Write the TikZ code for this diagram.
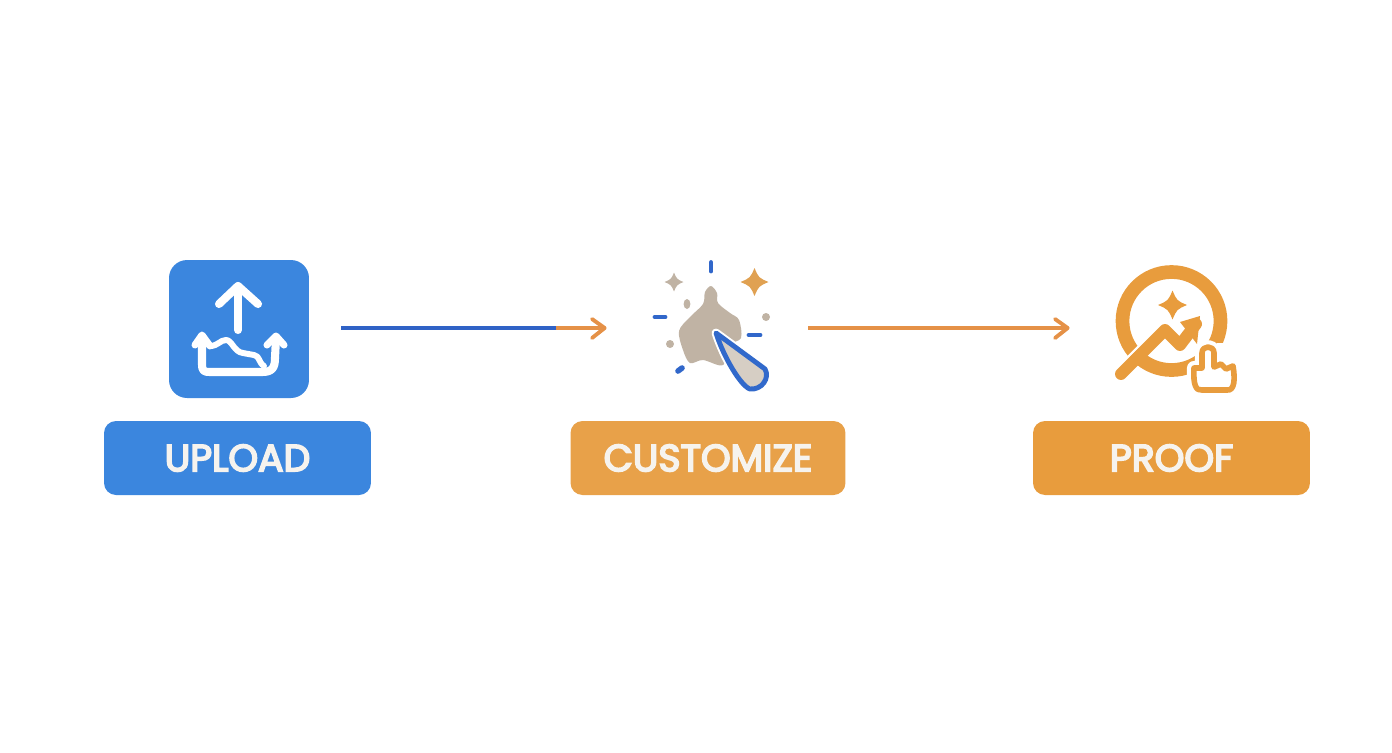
\documentclass[tikz,border=0pt]{standalone}
\usepackage{fontspec}
\setmainfont{Poppins}[FakeBold=4.6]
\usetikzlibrary{calc}
\definecolor{uploadblue}{HTML}{3B86DE}
\definecolor{lineblue}{HTML}{2F62C6}
\definecolor{proofgold}{HTML}{E89C3D}
\definecolor{paleorange}{HTML}{E8A149}
\definecolor{linegold}{HTML}{E59147}
\definecolor{blobtan}{HTML}{C0B3A4}
\definecolor{labelwhite}{HTML}{F6F3EE}
\tikzset{
	labelbox/.style={rectangle, rounded corners=0.24cm, minimum height=1.48cm, text=labelwhite, font=\fontsize{21.5}{25}\selectfont},
	flowline/.style={line width=2pt},
	flowhead/.style={line width=2.2pt, line cap=round, line join=round},
	iconline/.style={white, line cap=round, line join=round},
	dashmark/.style={lineblue!85!uploadblue, line width=2.8pt, line cap=round},
	handline/.style={proofgold, line width=3.2pt, line join=round, fill=white}
}
\def\sparkle[#1](#2)(#3){\fill[#1] ($(#2)+(0,-#3)$) .. controls ($(#2)+({0.3*#3},{-0.3*#3})$) .. ($(#2)+(#3,0)$) .. controls ($(#2)+({0.3*#3},{0.3*#3})$) .. ($(#2)+(0,#3)$) .. controls ($(#2)+({-0.3*#3},{0.3*#3})$) .. ($(#2)+(-#3,0)$) .. controls ($(#2)+({-0.3*#3},{-0.3*#3})$) .. cycle;}
\def\handpath{(1202, 368) -- (1202, 353) .. controls (1202, 345) and (1214, 345) .. (1214, 353) -- (1214, 367) -- (1221, 364) -- (1226, 369) -- (1233, 366) .. controls (1235, 378) and (1235, 391) .. (1227, 390) -- (1202, 390) .. controls (1196, 391) and (1193, 385) .. (1194, 368) -- cycle}

\begin{document}
\begin{tikzpicture}[x=0.02cm, y=-0.02cm]
	%%%%% START %%%%%
	\useasboundingbox (0, 0) rectangle (1392, 752);
	
	\node[rectangle, fill=uploadblue, rounded corners=0.36cm, minimum width=2.8cm, minimum height=2.76cm] (uploadicon) at (239, 329) {};
	\node[minimum width=4.06cm, minimum height=2.8cm, inner sep=0] (customizeicon) at (706.5, 328) {};
	\node[minimum width=3.6cm, minimum height=2.8cm, inner sep=0] (proofdicon) at (1158, 328) {};
	
	\node[labelbox, fill=uploadblue, minimum width=5.34cm] (uploadlabel) at (237.5, 458) {UPLOAD};
	\node[labelbox, fill=paleorange, minimum width=5.5cm] (customizelabel) at (708, 458) {CUSTOMIZE};
	\node[labelbox, fill=proofgold, minimum width=5.54cm] (prooflabel) at (1171.5, 458) {PROOF};
	
	\coordinate (bluestop) at (556, 328);
	\draw[flowline, lineblue, shorten <=0.64cm] (uploadicon.east |- bluestop) -- (bluestop);
	\draw[flowline, linegold] (bluestop) -- (customizeicon.west);
	\draw[flowhead, linegold] (592, 319) -- (customizeicon.west) -- (592, 338);
	\draw[flowline, linegold] (customizeicon.east) -- (proofdicon.west);
	\draw[flowhead, linegold] (1055, 319) -- (proofdicon.west) -- (1055, 338);
	
	% upload glyph
	\draw[iconline, line width=4.6pt] (238, 330) -- (238, 286);
	\draw[iconline, line width=4.6pt] (219, 304) -- (238, 286) -- (258, 304);
	\draw[iconline, line width=4.6pt] (202, 338) -- (202, 364) .. controls (202, 371) and (204, 372) .. (210, 372) -- (262, 372) .. controls (272, 372) and (275, 368) .. (275, 358) -- (276, 338);
	\draw[iconline, line width=4pt] (195, 345) -- (202, 335) -- (210, 346);
	\draw[iconline, line width=4pt] (267, 345) -- (276, 336) -- (284, 345);
	\draw[iconline, line width=3.4pt] (210, 346) .. controls (218, 346) and (220, 340) .. (226, 340) .. controls (232, 340) and (234, 352) .. (243, 353) -- (254, 355) .. controls (260, 356) and (258, 362) .. (264, 366);
	
	% customize glyph
	\fill[blobtan] plot[smooth cycle, tension=0.55] coordinates {(711, 286) (717, 293) (718, 303) (730, 313) (739, 320) (741, 338) (730, 345) (723, 365) (703, 360) (690, 363) (683, 350) (679, 331) (690, 317) (703, 304) (705, 292)};
	\draw[white, line width=5pt, line join=round] (716, 333) -- (765, 369) .. controls (770, 378) and (762, 390) .. (750, 389) .. controls (741, 386) and (724, 358) .. cycle;
	\draw[fill=blobtan!65!white, draw=lineblue!80!uploadblue, line width=2.8pt, line join=round] (716, 333) -- (765, 369) .. controls (770, 378) and (762, 390) .. (750, 389) .. controls (741, 386) and (724, 358) .. cycle;
	\sparkle[blobtan](674, 282)(9.5);
	\sparkle[proofgold!80!blobtan](754.5, 282)(14);
	\fill[blobtan] (687, 304) ellipse (3.4 and 5);
	\fill[blobtan] (766, 317) circle (4);
	\fill[blobtan] (670, 344) circle (4);
	\draw[dashmark] (711, 262.5) -- (711, 271);
	\draw[dashmark] (655, 317) -- (665, 317);
	\draw[dashmark] (749, 335) -- (760, 335);
	\draw[dashmark, line width=3.2pt] (678, 371) -- (682, 368);
	
	% proof glyph
	\draw[proofgold, line width=7.8pt] (1171.5, 321) circle (49);
	\fill[white] (1217, 343) rectangle (1245, 372);
	\draw[white, line width=1.4pt] (1127, 358) -- (1141, 344);
	\draw[proofgold, line width=6.8pt, line cap=round, line join=round] (1121, 374) -- (1165, 330) -- (1180, 345) -- (1196, 324);
	\fill[proofgold] (1200, 316) -- (1180, 322) -- (1197, 344) -- cycle;
	\sparkle[proofgold](1172.5, 305)(14.5);
	\draw[white, line width=8pt, line join=round] \handpath;
	\draw[handline] \handpath;
	
	%%%%% END %%%%%
\end{tikzpicture}
\end{document}
